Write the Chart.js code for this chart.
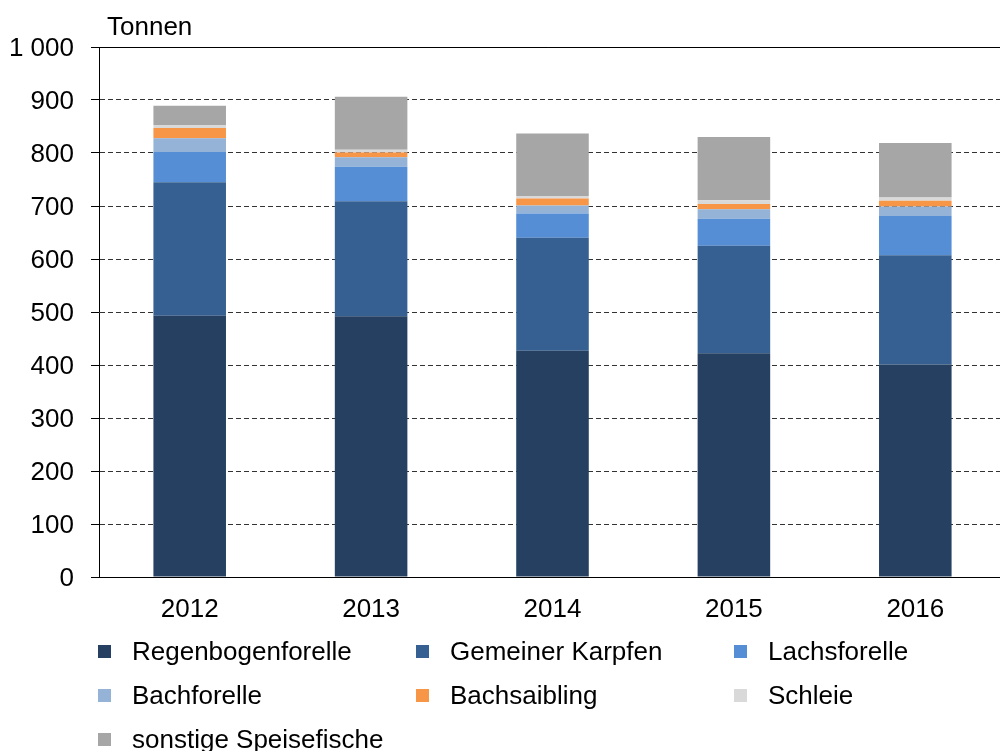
<!DOCTYPE html>
<html lang="de">
<head>
<meta charset="utf-8">
<title>Speisefische – Erzeugung in Tonnen</title>
<script src="https://cdn.jsdelivr.net/npm/chart.js@4/dist/chart.umd.min.js"></script>
<style>
  html, body { margin: 0; padding: 0; background: #fff; overflow: hidden; }
  #wrap { position: absolute; left: 0; top: 0; width: 1000px; height: 751px; overflow: hidden; }
  canvas { display: block; }
</style>
</head>
<body>
<div id="wrap"><canvas id="fischChart" width="1006" height="751"></canvas></div>
<script>
// Jahre
const jahre = ['2012', '2013', '2014', '2015', '2016'];

// Werte in Tonnen, je Fischart
const regenbogenforelle = [493, 492, 427, 422, 401];
const gemeinerKarpfen   = [252, 217, 213, 203, 206];
const lachsforelle      = [57, 65, 46, 51, 74];
const bachforelle       = [26, 18, 15, 18, 18];
const bachsaibling      = [19, 9, 13, 10, 11];
const schleie           = [6, 5, 5, 7, 6];
const sonstige          = [36, 100, 118, 119, 103];

const artNamen = ['Regenbogenforelle', 'Gemeiner Karpfen', 'Lachsforelle', 'Bachforelle', 'Bachsaibling', 'Schleie', 'sonstige Speisefische'];
const artFarben = ['#254061', '#376092', '#558ed5', '#95b3d7', '#f79646', '#d9d9d9', '#a6a6a6'];
const artWerte = [regenbogenforelle, gemeinerKarpfen, lachsforelle, bachforelle, bachsaibling, schleie, sonstige];

const yTicks = [0, 100, 200, 300, 400, 500, 600, 700, 800, 900, 1000];

const schrift = '"Liberation Sans", Arial, sans-serif';

// Titel "Tonnen", obere Linie und Legende in drei Spalten
const extrasPlugin = {
  id: 'extras',
  afterDraw(chart) {
    const ctx = chart.ctx;
    const area = chart.chartArea;
    ctx.save();

    // durchgezogene Linie bei 1 000
    const yTop = chart.scales.y.getPixelForValue(1000);
    ctx.strokeStyle = '#000';
    ctx.lineWidth = 1;
    ctx.beginPath();
    ctx.moveTo(area.left - 8, yTop + 0.5);
    ctx.lineTo(area.right, yTop + 0.5);
    ctx.stroke();

    ctx.fillStyle = '#000';
    ctx.font = '26px ' + schrift;
    ctx.textBaseline = 'middle';
    ctx.textAlign = 'left';
    ctx.fillText('Tonnen', 107, 28);

    // Legende
    const spalten = [98, 416, 734];
    const zeilen = [652, 696, 740];
    chart.data.datasets.forEach((ds, i) => {
      const x = spalten[i % 3];
      const y = zeilen[Math.floor(i / 3)];
      ctx.fillStyle = ds.backgroundColor;
      ctx.fillRect(x, y - 7, 13, 13);
      ctx.fillStyle = '#000';
      ctx.fillText(ds.label, x + 34, y + 1);
    });
    ctx.restore();
  }
};

const datasets = artNamen.map((name, i) => ({
  label: name,
  data: artWerte[i],
  backgroundColor: artFarben[i],
  borderWidth: 0,
  barPercentage: 0.4,
  categoryPercentage: 1.0
}));

const chart = new Chart(document.getElementById('fischChart').getContext('2d'), {
  type: 'bar',
  data: { labels: jahre, datasets: datasets },
  options: {
    responsive: false,
    animation: false,
    layout: { padding: { top: 47, left: 0, right: 0, bottom: 0 } },
    plugins: {
      legend: { display: false },
      tooltip: { enabled: false }
    },
    scales: {
      x: {
        stacked: true,
        afterFit: s => { s.height = 174; },
        grid: { display: false, drawTicks: false },
        border: { display: true, color: '#000', width: 1 },
        ticks: {
          color: '#000',
          font: { family: schrift, size: 26 },
          padding: 17
        }
      },
      y: {
        stacked: true,
        min: 0,
        max: 1000,
        afterFit: s => { s.width = 99; },
        afterBuildTicks: s => { s.ticks = yTicks.map(v => ({ value: v })); },
        grid: {
          color: '#333',
          lineWidth: 1,
          drawTicks: true,
          tickLength: 8,
          tickColor: '#000',
          tickWidth: 1
        },
        border: { display: true, color: '#000', width: 1, dash: [5, 3] },
        ticks: {
          color: '#000',
          font: { family: schrift, size: 26 },
          padding: 17,
          labelOffset: 2,
          callback: v => v >= 1000 ? Math.floor(v / 1000) + ' ' + String(v % 1000).padStart(3, '0') : String(v)
        }
      }
    }
  },
  plugins: [extrasPlugin]
});
</script>
</body>
</html>
